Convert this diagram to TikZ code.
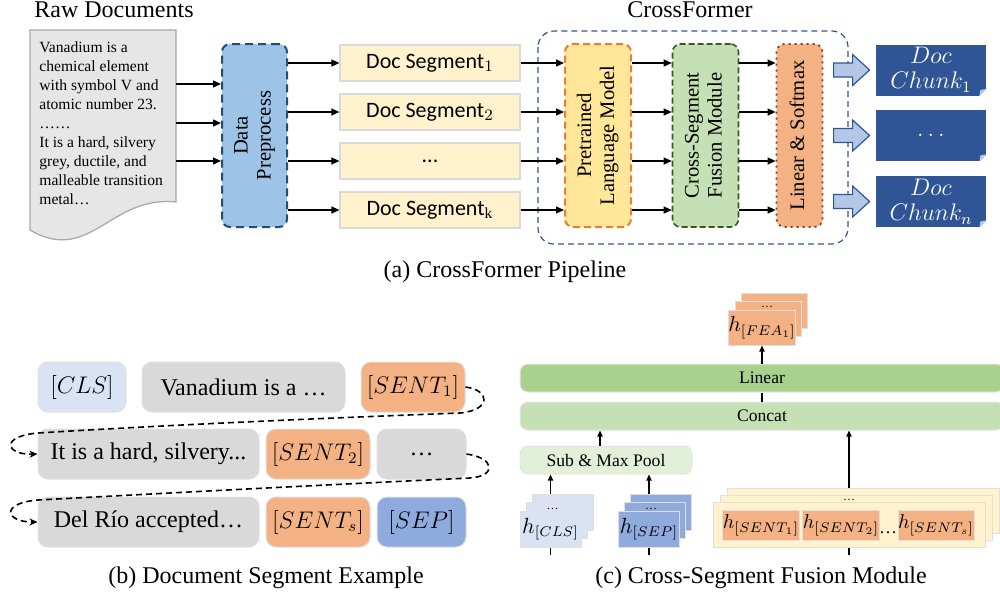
\documentclass[tikz,border=0pt]{standalone}
\usepackage{fontspec}
\setmainfont{Liberation Serif}
\newfontfamily\segfont{Carlito}
\usepackage{graphicx}
\usetikzlibrary{positioning, arrows.meta, calc}

\definecolor{docgray}{HTML}{E7E6E6}
\definecolor{docline}{HTML}{A6A6A6}
\definecolor{prefill}{HTML}{9DC3E6}
\definecolor{preline}{HTML}{1F4E79}
\definecolor{segyellow}{HTML}{FFF2CC}
\definecolor{plmfill}{HTML}{FFE699}
\definecolor{plmline}{HTML}{ED7D31}
\definecolor{csffill}{HTML}{C5E0B4}
\definecolor{csfline}{HTML}{385723}
\definecolor{lsfill}{HTML}{F4B183}
\definecolor{lsline}{HTML}{843C0C}
\definecolor{darkblue}{HTML}{2F5597}
\definecolor{arrblue}{HTML}{B4C7E7}
\definecolor{clsblue}{HTML}{DAE3F3}
\definecolor{sepblue}{HTML}{8FAADC}
\definecolor{tokgray}{HTML}{D9D9D9}
\definecolor{linfill}{HTML}{A9D18E}
\definecolor{subfill}{HTML}{E2F0D9}

\newcommand{\uplabel}[1]{\rotatebox{90}{\begin{tabular}{@{}c@{}}#1\end{tabular}}}

\begin{document}
\begin{tikzpicture}
        [
            x=0.5pt, y=-0.5pt,
            arr/.style={-{Triangle[length=4pt,width=3.5pt]}, line width=0.65pt},
            smallarr/.style={-{Triangle[length=3pt,width=2.6pt]}, line width=0.6pt},
            flow/.style={-{Stealth[length=4pt,width=3.5pt]}, dash pattern=on 3pt off 2pt, line width=0.8pt},
            vbox/.style={rounded corners=4pt, minimum height=91.5pt, inner sep=0pt, line width=1pt, font=\fontsize{10.3}{11.5}\selectfont},
            seg/.style={fill=segyellow, draw=tokgray, line width=0.6pt, minimum width=90pt, minimum height=18pt, inner sep=0pt, font=\segfont\fontsize{11}{13}\selectfont},
            chunk/.style={fill=darkblue, text=white, minimum width=55pt, minimum height=25.5pt, inner sep=0pt, align=center, font=\fontsize{11.5}{12.5}\selectfont},
            bigarr/.style={fill=arrblue, draw=darkblue, line width=0.6pt},
            tok/.style={rounded corners=5pt, draw=gray!25, line width=0.5pt, minimum height=25pt, inner sep=0pt, font=\fontsize{12}{14}\selectfont},
            bar/.style={rounded corners=4pt, draw=gray!20, line width=0.5pt, minimum height=14pt, inner sep=0pt, font=\fontsize{8.8}{10}\selectfont},
            stackbox/.style={draw=gray!25, line width=0.5pt, inner sep=0pt, font=\fontsize{10.5}{11}\selectfont},
            dotsmark/.style={anchor=base, inner sep=0pt, font=\fontsize{6}{6}\selectfont},
            caption/.style={anchor=base, font=\fontsize{12}{14}\selectfont},
        ]
        \useasboundingbox (0,0) rectangle (1000,601);

        % (a) pipeline
        \node[caption] at (114,17) {Raw Documents};
        \node[caption] at (690,17) {CrossFormer};
        \draw[fill=docgray, draw=docline, line width=0.6pt] (30,30) -- (176,30) -- (176,202)
            .. controls (110,195) and (90,265) .. (30,230) -- cycle;
        \coordinate (rawedge) at (176,30);
        \node[anchor=north west, inner sep=0pt, align=left, font=\fontsize{7.8}{9.5}\selectfont] (rawtxt) at (39,41)
            {Vanadium is a\\chemical element\\with symbol V and\\atomic number 23.\\……\\It is a hard, silvery\\grey, ductile, and\\malleable transition\\metal…};

        \node[vbox, fill=prefill, draw=preline, dash pattern=on 4pt off 2.5pt, minimum width=32.5pt] (pre) at (254.5,135.5) {\uplabel{Data\\Preprocess}};

        \node[seg] (seg1) at (430,63) {Doc Segment$_1$};
        \node[seg] (seg2) at (430,112) {Doc Segment$_2$};
        \node[seg] (seg3) at (430,161) {...};
        \node[seg] (seg4) at (430,210) {Doc Segment$_{\mathrm{k}}$};

        \draw[darkblue, dash pattern=on 3pt off 2pt, line width=0.6pt, rounded corners=8pt] (538,31) rectangle (848,244);

        \node[vbox, fill=plmfill, draw=plmline, dash pattern=on 3.5pt off 2pt, minimum width=33pt] (plm) at (598,135.5) {\uplabel{Pretrained\\Language Model}};
        \node[vbox, fill=csffill, draw=csfline, dash pattern=on 3pt off 1.5pt, line width=0.8pt, minimum width=33pt] (csf) at (705.5,135.5) {\uplabel{Cross-Segment\\Fusion Module}};
        \node[vbox, fill=lsfill, draw=lsline, dotted, line width=0.9pt, minimum width=23pt] (ls) at (799.5,135.5) {\uplabel{Linear \& Softmax}};

        \foreach \y in {84,123,161}
            \draw[arr] (rawedge |- 0,\y) -- (pre.west |- 0,\y);
        \foreach \i in {1,...,4}
        {
            \draw[arr] (pre.east |- seg\i) -- (seg\i.west);
            \draw[arr] (seg\i.east) -- (plm.west |- seg\i);
            \draw[arr] (plm.east |- seg\i) -- (csf.west |- seg\i);
            \draw[arr] (csf.east |- seg\i) -- (ls.west |- seg\i);
        }

        \node[chunk] (chunk1) at (931,70) {$Doc$\\$Chunk_1$};
        \node[chunk] (chunk2) at (931,135.5) {$\dots$};
        \node[chunk] (chunk3) at (931,201.5) {$Doc$\\$Chunk_n$};
        \foreach \i in {1,2,3}
        {
            \draw[bigarr] ($(chunk\i.west)+(-42,-7)$) -- ++(19,0) -- ++(0,-8.5) -- ++(17,15.5)
                -- ++(-17,15.5) -- ++(0,-8.5) -- ++(-19,0) -- cycle;
            \fill[white] (chunk\i.south east) -- ++(-7,0) -- ++(7,-7) -- cycle;
            \fill[arrblue] ($(chunk\i.south east)+(-7,0)$) -- ++(7,-7) -- ++(-6,1) -- cycle;
        }
        \node[caption] at (505,277) {(a) CrossFormer Pipeline};

        % (b) segment example
        \node[tok, fill=clsblue, minimum width=44pt] (cls0) at (82,387) {$[CLS]$};
        \node[tok, fill=tokgray, minimum width=101.5pt] (van) at (243.5,387) {Vanadium is a …};
        \node[tok, fill=lsfill, minimum width=52pt] (sent1) at (413,387) {$[SENT_1]$};
        \node[tok, fill=tokgray, minimum width=110.5pt] (hard) at (148.5,454) {It is a hard, silvery...};
        \node[tok, fill=lsfill, minimum width=52pt] (sent2) at (318,454) {$[SENT_2]$};
        \node[tok, fill=tokgray, minimum width=44.5pt] (more) at (421.5,454) {…};
        \node[tok, fill=tokgray, minimum width=110.5pt] (delrio) at (148.5,522) {Del Río accepted…};
        \node[tok, fill=lsfill, minimum width=52pt] (sents) at (318,522) {$[SENT_s]$};
        \node[tok, fill=sepblue, minimum width=44.5pt] (sep0) at (421.5,522) {$[SEP]$};

        \draw[flow] (sent1.east) .. controls (490,390) and (492,410) .. (460,413)
            .. controls (300,419) and (150,426) .. (38,433)
            .. controls (0,436) and (5,455) .. (hard.west);
        \draw[flow] (more.east) .. controls (495,458) and (497,476) .. (470,478)
            .. controls (300,486) and (150,494) .. (38,500)
            .. controls (0,503) and (5,522) .. (delrio.west);
        \node[caption] at (266,583) {(b) Document Segment Example};

        % (c) fusion module
        \node[stackbox, fill=lsfill, minimum width=33pt, minimum height=17.5pt] (fea3) at (774,310.5) {};
        \node[stackbox, fill=lsfill, minimum width=33pt, minimum height=17.5pt] (fea2) at (768,319) {};
        \node[dotsmark] at (767,307) {…};
        \node[stackbox, fill=lsfill, minimum width=33pt, minimum height=17.5pt] (fea) at (762,327.5) {$h_{[FEA_1]}$};

        \node[bar, fill=linfill] (linear) at (762,378) [minimum width=242pt] {Linear};
        \node[bar, fill=csffill] (concat) at (762,416) [minimum width=242pt] {Concat};
        \node[bar, fill=subfill] (sub) at (606,460) [minimum width=86pt] {Sub \& Max Pool};

        \foreach \n/\x/\c/\t in {cls/550.5/clsblue/CLS, sep/649/sepblue/SEP}
        {
            \node[stackbox, fill=\c, minimum width=30.5pt, minimum height=18pt] (\n3) at ({\x+12},512) {};
            \node[stackbox, fill=\c, minimum width=30.5pt, minimum height=18pt] (\n2) at ({\x+6},520.5) {};
            \node[dotsmark] at ({\x+2},509.5) {…};
            \node[stackbox, fill=\c, minimum width=30.5pt, minimum height=18pt] (\n) at (\x,529) {$h_{[\t]}$};
        }

        \node[stackbox, fill=segyellow, minimum width=136pt, minimum height=22.5pt] (hs3) at (863,510.5) {};
        \node[stackbox, fill=segyellow, minimum width=136pt, minimum height=22.5pt] (hs2) at (856,517.5) {};
        \node[dotsmark] at (849,500) {…};
        \node[stackbox, fill=segyellow, minimum width=136pt, minimum height=22.5pt] (hs) at (849,524.5) {};
        \node[stackbox, fill=lsfill, minimum width=36pt, minimum height=15pt, font=\fontsize{9.8}{10}\selectfont] (hs1) at (761,525) {$h_{[SENT_1]}$};
        \node[stackbox, fill=lsfill, minimum width=36pt, minimum height=15pt, font=\fontsize{9.8}{10}\selectfont] (hs2b) at (841,525) {$h_{[SENT_2]}$};
        \node[anchor=base, inner sep=0pt, font=\fontsize{9}{10}\selectfont] at (888,533) {…};
        \node[stackbox, fill=lsfill, minimum width=36pt, minimum height=15pt, font=\fontsize{9.8}{10}\selectfont] (hss) at (936,525) {$h_{[SENT_s]}$};

        \draw[smallarr] (cls3.north -| cls) -- (sub.south -| cls);
        \draw[smallarr] (sep3.north -| sep) -- (sub.south -| sep);
        \draw[smallarr] (sub.north -| 600,0) -- (concat.south -| 600,0);
        \draw[smallarr] (hs3.north -| hs) -- (concat.south -| hs);
        \draw[line width=0.6pt] (concat.north -| fea) -- (linear.south -| fea);
        \draw[smallarr] (linear.north -| fea) -- (fea.south);
        \foreach \n in {cls, sep, hs}
            \draw[line width=0.6pt] (\n.south) -- ++(0,7);
        \node[caption] at (761,583) {(c) Cross-Segment Fusion Module};
    \end{tikzpicture}
\end{document}
